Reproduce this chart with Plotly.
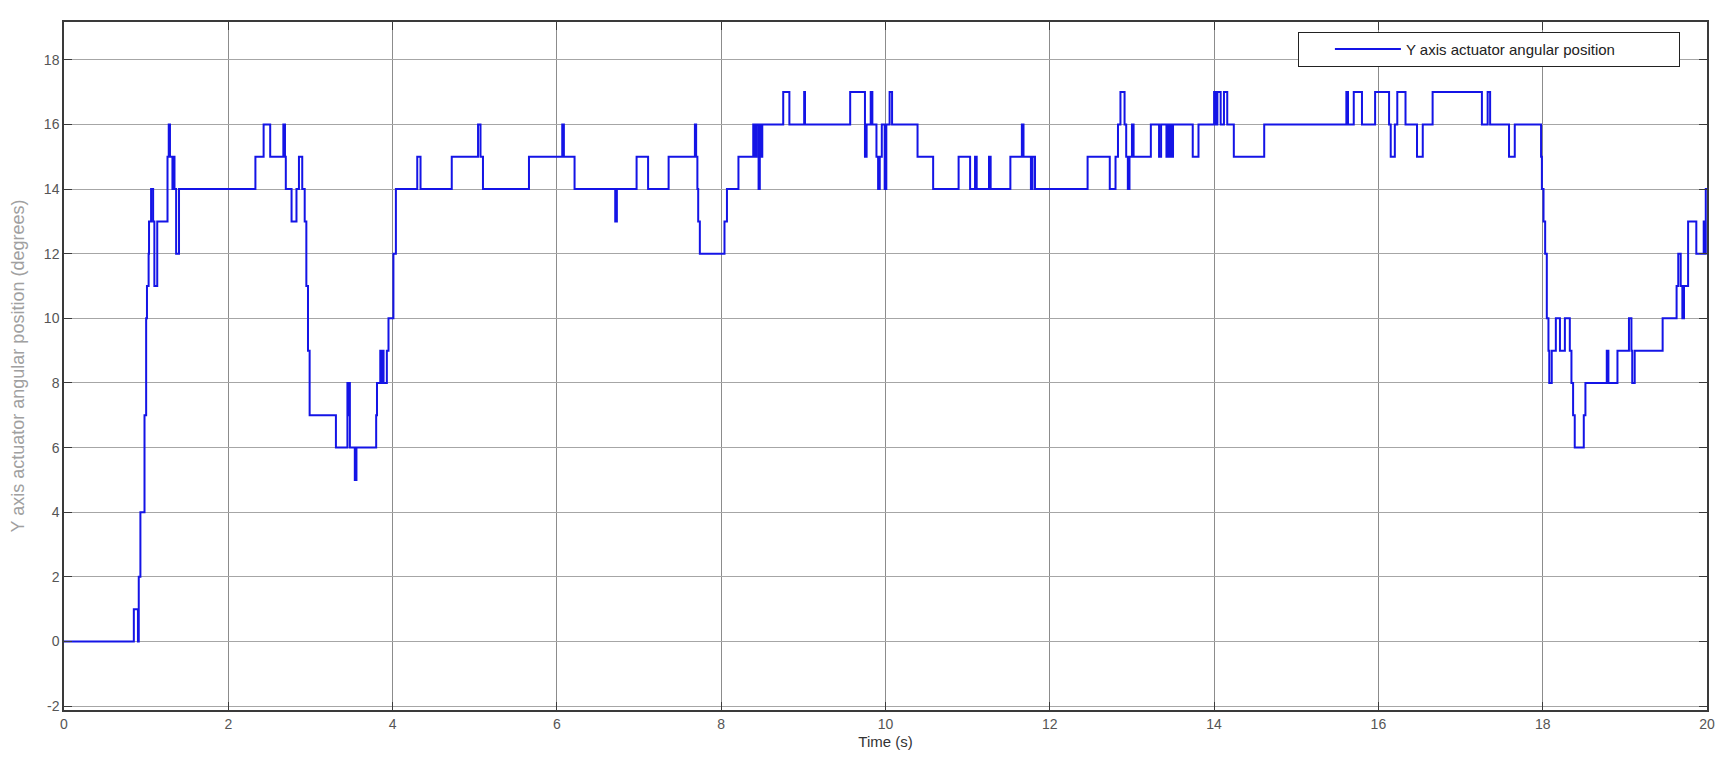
import plotly.graph_objects as go

# Step-change points (time in s, angle in degrees)
time_s = [
    0.00, 0.85, 0.90, 0.91, 0.93, 0.98, 1.00, 1.01, 1.03, 1.035, 1.06, 1.085, 1.10, 1.135,
    1.26, 1.275, 1.29, 1.32, 1.33, 1.345, 1.365, 1.40,
    2.33, 2.43, 2.51, 2.67, 2.69, 2.70, 2.77, 2.83, 2.86, 2.90, 2.93, 2.95, 2.97, 2.99,
    3.31, 3.45, 3.46, 3.47, 3.48, 3.54, 3.56, 3.80, 3.81, 3.85, 3.87, 3.875, 3.89, 3.93, 3.95,
    4.01, 4.04, 4.30, 4.34, 4.72, 5.04, 5.07, 5.10, 5.66, 6.065, 6.085, 6.215, 6.71, 6.73,
    6.97, 7.11, 7.36, 7.68, 7.695, 7.71, 7.72, 7.74, 8.04, 8.07, 8.21, 8.39, 8.41, 8.43,
    8.455, 8.47, 8.49, 8.50, 8.755, 8.83, 9.01, 9.02, 9.57, 9.75, 9.77, 9.82, 9.84, 9.89,
    9.91, 9.93, 9.955, 9.99, 10.01, 10.05, 10.08, 10.39, 10.58, 10.89, 11.03, 11.09, 11.11,
    11.26, 11.28, 11.52, 11.66, 11.68, 11.77, 11.79, 11.82, 12.46, 12.73, 12.80, 12.83,
    12.86, 12.91, 12.93, 12.95, 12.97, 13.00, 13.02, 13.23, 13.33, 13.355, 13.42, 13.43,
    13.45, 13.47, 13.49, 13.50, 13.74, 13.81, 14.00, 14.02, 14.04, 14.08, 14.12, 14.16,
    14.24, 14.61, 15.61, 15.63, 15.70, 15.80, 15.96, 16.13, 16.15, 16.20, 16.23, 16.33,
    16.47, 16.54, 16.66, 17.26, 17.33, 17.36, 17.59, 17.66, 17.98, 17.99, 18.01, 18.03,
    18.05, 18.07, 18.08, 18.11, 18.16, 18.21, 18.27, 18.33, 18.35, 18.37, 18.39, 18.50,
    18.52, 18.78, 18.80, 18.91, 19.05, 19.08, 19.09, 19.12, 19.46, 19.63, 19.65, 19.68,
    19.70, 19.72, 19.77, 19.87, 19.96, 19.97, 19.985, 20.00,
]
angle_deg = [
    0, 1, 0, 2, 4, 7, 10, 11, 12, 13, 14, 13, 11, 13,
    15, 16, 15, 14, 15, 14, 12, 14,
    15, 16, 15, 16, 15, 14, 13, 14, 15, 14, 13, 11, 9, 7,
    6, 8, 7, 8, 6, 5, 6, 7, 8, 9, 8, 9, 8, 9, 10,
    12, 14, 15, 14, 15, 16, 15, 14, 15, 16, 15, 14, 13, 14,
    15, 14, 15, 16, 15, 14, 13, 12, 13, 14, 15, 16, 15, 16,
    14, 16, 15, 16, 17, 16, 17, 16, 17, 15, 16, 17, 16, 15,
    14, 15, 16, 14, 16, 17, 16, 15, 14, 15, 14, 15, 14,
    15, 14, 15, 16, 15, 14, 15, 14, 15, 14, 15, 16,
    17, 16, 15, 14, 15, 16, 15, 16, 15, 16, 15, 16,
    15, 16, 15, 16, 15, 16, 17, 16, 17, 16, 17, 16,
    15, 16, 17, 16, 17, 16, 17, 16, 15, 16, 17, 16,
    15, 16, 17, 16, 17, 16, 15, 16, 15, 14, 13, 12,
    10, 9, 8, 9, 10, 9, 10, 9, 8, 7, 6, 7,
    8, 9, 8, 9, 10, 9, 8, 9, 10, 11, 12, 11,
    10, 11, 13, 12, 13, 12, 14, 14,
]

x_ticks = [0, 2, 4, 6, 8, 10, 12, 14, 16, 18, 20]
y_ticks = [-2, 0, 2, 4, 6, 8, 10, 12, 14, 16, 18]

series_name = "Y axis actuator angular position"

fig = go.Figure()
fig.add_trace(go.Scatter(
    x=time_s, y=angle_deg, mode="lines", line_shape="hv",
    line=dict(color="#1414e6", width=2),
    name=series_name, showlegend=True,
))

font_family = "Liberation Sans, Arial, sans-serif"
fig.update_layout(
    width=1717, height=761,
    margin=dict(l=56, r=18, t=14, b=59),
    paper_bgcolor="white", plot_bgcolor="white",
    font=dict(family=font_family, size=14, color="#555555"),
    showlegend=True,
    legend=dict(
        orientation="h",
        x=0.9836, y=0.986, xanchor="right", yanchor="top",
        bgcolor="white", bordercolor="#222222", borderwidth=1,
        font=dict(size=15, color="#222222"),
        title=dict(text="\u00a0" * 5, side="left", font=dict(size=15)),
        itemwidth=66, entrywidth=268, tracegroupgap=0,
    ),
    xaxis=dict(
        range=[0, 20], tickvals=x_ticks, ticktext=[str(v) for v in x_ticks],
        showgrid=True, gridcolor="#8c8c8c", gridwidth=1,
        zeroline=False, showline=True, linecolor="#3a3a3a", linewidth=1.5, mirror="ticks",
        ticks="inside", ticklen=8, tickcolor="#3a3a3a",
        tickfont=dict(size=14, color="#555555"),
        title=dict(text="Time (s)", font=dict(size=15, color="#333333"), standoff=6),
        automargin=False,
    ),
    yaxis=dict(
        range=[-2.12, 19.17], tickvals=y_ticks, ticktext=[str(v) for v in y_ticks],
        showgrid=True, gridcolor="#a6a6a6", gridwidth=1,
        zeroline=False, showline=True, linecolor="#3a3a3a", linewidth=1.5, mirror="ticks",
        ticks="inside", ticklen=8, tickcolor="#3a3a3a",
        tickfont=dict(size=14, color="#555555"),
        title=dict(text="Y axis actuator angular position (degrees)",
                   font=dict(size=18, color="#a0a0a0"), standoff=30),
        automargin=False,
    ),
)

fig.write_html("out.html")
